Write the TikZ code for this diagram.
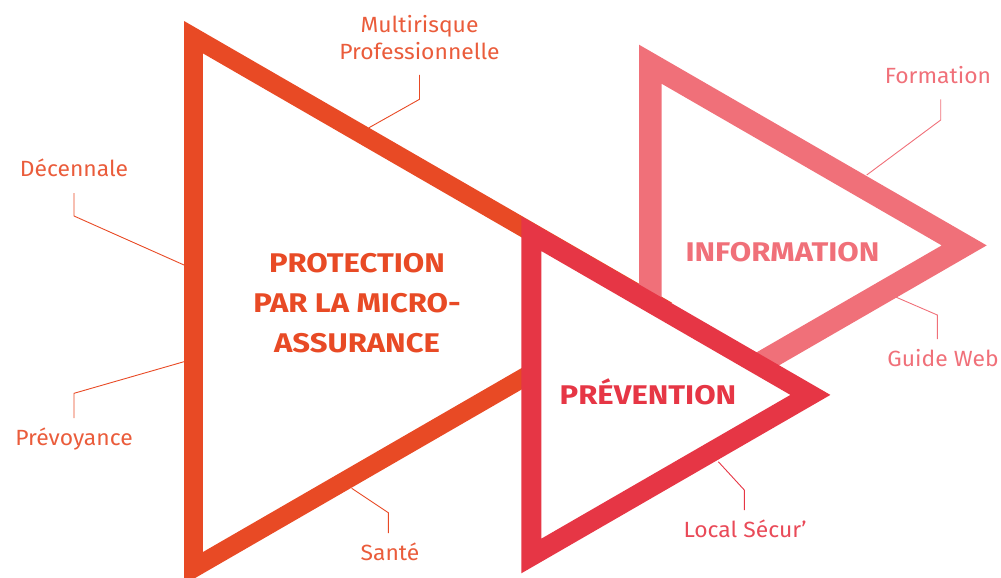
\documentclass[tikz,border=0pt]{standalone}
\usepackage{fontspec}
\setmainfont{Fira Sans}
\newfontfamily\titlefont[FakeStretch=1.15]{Fira Sans}
\newfontfamily\tagfont[FakeStretch=1.04]{Fira Sans}
\usepackage{xcolor}
\definecolor{prot}{HTML}{E84A25}
\definecolor{prev}{HTML}{E63645}
\definecolor{info}{HTML}{F07079}
\usepackage{tikz}
\usetikzlibrary{calc}
\usetikzlibrary{positioning}

\tikzset{
  tri/.style={line width=#1, line join=miter},
  lbltxt/.style={font=\tagfont\fontsize{22}{27}\selectfont, inner xsep=0pt, inner ysep=12pt},
  lbl/.style={lbltxt, text height=15pt, text depth=4pt},
  big/.style={font=\titlefont\bfseries\fontsize{27}{40}\selectfont, align=center, inner sep=0pt},
  link/.style={line width=0.9pt},
}

\begin{document}
\begin{tikzpicture}[x=1pt, y=-1pt]

    \useasboundingbox (0,0) rectangle (1001,578);
    \clip (0,0) rectangle (1001,578);

    % the three triangles
    \draw [tri=18.6pt, prot] (193.5,37.2) -- (653.4,302.7)
    -- (193.5,568.2) -- cycle;
    \draw [tri=22.5pt, info] (650.3,64.2) -- (964.2,245.4)
    -- (650.3,426.7) -- cycle;
    \draw [tri=20pt, prev, fill=white] (531.3,233.7) -- (810.4,394.9)
    -- (531.3,556) -- cycle;

    \node [big, prot] (protect) at (357,303)
    {PROTECTION\\PAR LA MICRO-\\ASSURANCE};
    \node [big, info, anchor=base] (inform) at (782.5,261) {INFORMATION};
    \node [big, prev, anchor=base] (prevent) at (648,404) {PRÉVENTION};

    % labels round the protection triangle
    \node [lbltxt, prot!90, above, align=center, inner ysep=15pt] (multi)
    at (419.5,75) {Multirisque\\Professionnelle};
    \coordinate (multi-k) at (419.5,99.3);
    \coordinate (multi-e) at (369,127.7);
    \draw [link, prot] (multi.south) -- (multi-k) -- (multi-e);

    \node [lbl, prot!90, above] (decen) at (74,193) {Décennale};
    \coordinate (decen-k) at (74,216);
    \coordinate (decen-e) at (184,265);
    \draw [link, prot] (decen.south) -- (decen-k) -- (decen-e);

    \node [lbl, prot!90, below] (prevoy) at (74,418) {Prévoyance};
    \coordinate (prevoy-k) at (74,393.3);
    \coordinate (prevoy-e) at (184,361.7);
    \draw [link, prot] (prevoy.north) -- (prevoy-k) -- (prevoy-e);

    \node [lbl, prot!90, below] (sante) at (390,533) {Santé};
    \coordinate (sante-k) at (388.3,512.7);
    \coordinate (sante-e) at (351.7,488.3);
    \draw [link, prot] (sante.north -| sante-k) -- (sante-k) -- (sante-e);

    % labels round prevention and information
    \node [lbl, prev!90, below] (local) at (745,510) {Local Sécur’};
    \coordinate (local-k) at (744.3,490);
    \coordinate (local-e) at (718.3,461.7);
    \draw [link, prev] (local.north -| local-k) -- (local-k) -- (local-e);

    \node [lbl, info, above] (form) at (938,99.3) {Formation};
    \coordinate (form-k) at (940.7,120);
    \coordinate (form-e) at (866.7,175);
    \draw [link, info] (form.south -| form-k) -- (form-k) -- (form-e);

    \node [lbl, info, below] (guide) at (943,339) {Guide Web};
    \coordinate (guide-k) at (937.3,315);
    \coordinate (guide-e) at (895,296.7);
    \draw [link, info] (guide.north -| guide-k) -- (guide-k) -- (guide-e);

  \end{tikzpicture}
\end{document}
